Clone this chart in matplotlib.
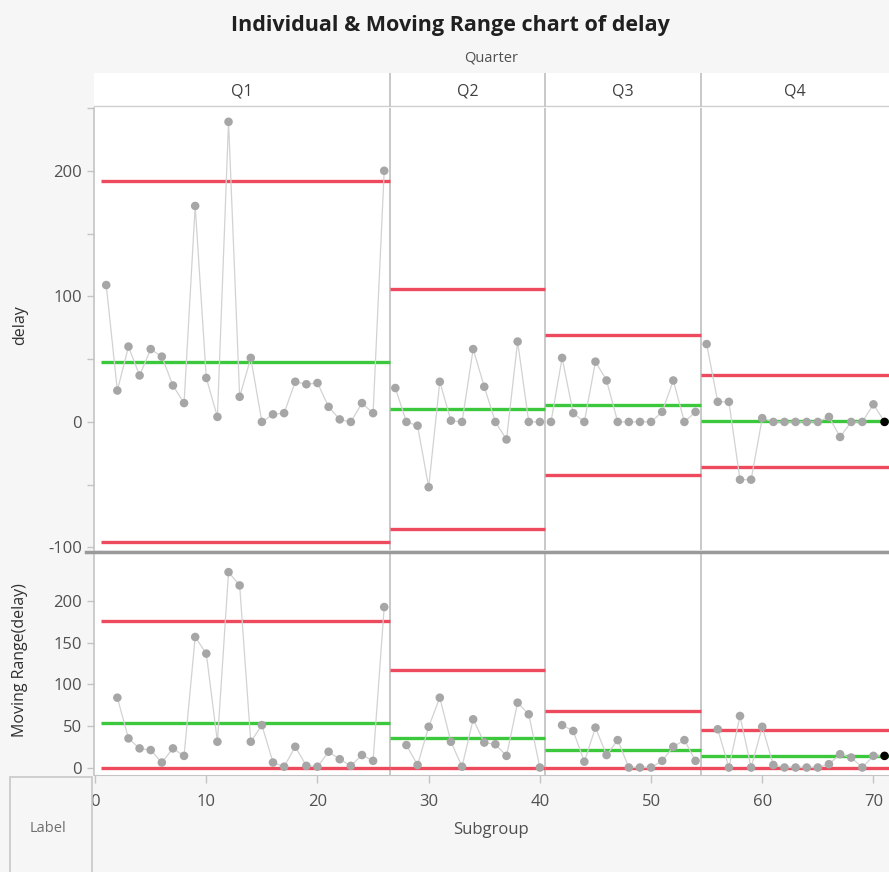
import numpy as np
import matplotlib.pyplot as plt
from matplotlib.lines import Line2D
from matplotlib.patches import Rectangle
from matplotlib.ticker import MultipleLocator, FixedLocator

plt.rcParams['font.family'] = ['Open Sans', 'DejaVu Sans']
plt.rcParams['axes.unicode_minus'] = False

quarters = ["Q1", "Q2", "Q3", "Q4"]
q1 = [109, 25, 60, 37, 58, 52, 29, 15, 172, 35, 4, 239, 20, 51, 0, 6, 7,
      32, 30, 31, 12, 2, 0, 15, 7, 200]
q2 = [27, 0, -3, -52, 32, 1, 0, 58, 28, 0, -14, 64, 0, 0]
q3 = [0, 51, 7, 0, 48, 33, 0, 0, 0, 0, 8, 33, 0, 8]
q4 = [62, 16, 16, -46, -46, 3, 0, 0, 0, 0, 0, 4, -12, 0, 0, 14, 0]
phases = [q1, q2, q3, q4]

RED = "#ee4a5e"
GREEN = "#3cc83c"
PT = "#a6a6a6"
LN = "#d2d2d2"
GRID = "#c4c4c4"
TXT = "#505050"

W, H = 889, 872
fig = plt.figure(figsize=(W / 100, H / 100), dpi=100, facecolor="#f6f6f6")


def fx(px):
    return px / W


def fy(py):
    return 1 - py / H


left = fx(94)
ax1 = fig.add_axes([left, fy(550), 1 - left, (550 - 108) / H])
ax2 = fig.add_axes([left, fy(775), 1 - left, (775 - 553) / H])
xmax = 71.4
xmin = -0.1

start = 1
bounds = []
for i, vals in enumerate(phases):
    v = np.array(vals, dtype=float)
    x = np.arange(start, start + len(v))
    mr = np.abs(np.diff(v))
    mean = v.mean()
    mrbar = mr.mean()
    ucl, lcl = mean + 2.66 * mrbar, mean - 2.66 * mrbar
    mr_ucl = 3.267 * mrbar
    x0, x1 = x[0] - 0.5, x[-1] + 0.5

    ax1.plot(x, v, color=LN, lw=0.9, zorder=2)
    cols = [PT] * len(v)
    if i == len(phases) - 1:
        cols[-1] = "black"
    ax1.scatter(x, v, s=38, c=cols, zorder=3, linewidths=0)
    ax1.hlines([ucl, lcl], x0, x1, color=RED, lw=2.4, zorder=1)
    ax1.hlines(mean, x0, x1, color=GREEN, lw=2.4, zorder=1)

    ax2.plot(x[1:], mr, color=LN, lw=0.9, zorder=2)
    ax2.scatter(x[1:], mr, s=38, c=cols[1:], zorder=3, linewidths=0)
    ax2.hlines([mr_ucl, 0], x0, x1, color=RED, lw=2.4, zorder=1)
    ax2.hlines(mrbar, x0, x1, color=GREEN, lw=2.4, zorder=1)

    if i > 0:
        bounds.append(start - 0.5)
    start += len(v)

ax1.set_ylim(-102, 250)
ax2.set_ylim(-9, 258)
for ax in (ax1, ax2):
    ax.set_xlim(xmin, xmax)
    ax.set_facecolor("white")
    for s in ("top", "right", "bottom"):
        ax.spines[s].set_visible(False)
    ax.spines["left"].set_color(GRID)
    ax.spines["left"].set_linewidth(1.2)
    ax.tick_params(axis="y", colors=GRID, labelcolor=TXT, labelsize=12,
                   length=5, width=1)
    ax.tick_params(axis="y", which="minor", colors=GRID, length=5, width=1)
    for b in bounds:
        ax.axvline(b, color=GRID, lw=1.3, zorder=0)

ax1.yaxis.set_major_locator(MultipleLocator(100))
ax1.yaxis.set_minor_locator(MultipleLocator(50))
ax1.set_xticks([])
ax2.yaxis.set_major_locator(FixedLocator([0, 50, 100, 150, 200]))
ax2.set_xticks(range(0, 71, 10))
ax2.tick_params(axis="x", colors=GRID, labelcolor=TXT, labelsize=12,
                length=6, width=1, pad=8)
ax2.spines["bottom"].set_visible(True)
ax2.spines["bottom"].set_color(GRID)

# header band with quarter names
hdr = fig.add_axes([left, fy(107), 1 - left, (107 - 73) / H])
hdr.set_xlim(xmin, xmax)
hdr.set_ylim(0, 1)
hdr.set_facecolor("white")
hdr.set_xticks([])
hdr.set_yticks([])
for s in hdr.spines.values():
    s.set_visible(False)
hdr.axhline(0, color="#d0d0d0", lw=2.5)
edges = [xmin] + bounds + [xmax]
for k, q in enumerate(quarters):
    hdr.text((edges[k] + edges[k + 1]) / 2, 0.45, q, ha="center",
             va="center", fontsize=11.5, color="#404040")
for b in bounds:
    hdr.axvline(b, color=GRID, lw=1.3)

# separator between the two charts
fig.add_artist(Line2D([fx(86), 1], [fy(552), fy(552)], color="#9a9a9a",
                      lw=2.5))

fig.text(0.507, fy(25), "Individual & Moving Range chart of delay",
         ha="center", va="center", fontsize=15.5, fontweight="bold",
         color="#202020")
fig.text(fx(491), fy(58), "Quarter", ha="center", va="center",
         fontsize=10.5, color=TXT)
fig.text(fx(20), fy(325), "delay", rotation=90, ha="center", va="center",
         fontsize=11.5, color="#303030")
fig.text(fx(20), fy(660), "Moving Range(delay)", rotation=90, ha="center",
         va="center", fontsize=11.5, color="#303030")
fig.text(fx(491), fy(830), "Subgroup", ha="center", va="center",
         fontsize=12, color=TXT)

fig.add_artist(Rectangle((fx(10), -0.01), fx(82), fy(777) + 0.01,
                         transform=fig.transFigure, fill=False,
                         edgecolor="#c8c8c8", lw=1.2))
fig.text(fx(48), fy(828), "Label", ha="center", va="center", fontsize=10.5,
         color="#707070")

fig.savefig("out.png", dpi=100, facecolor=fig.get_facecolor())
